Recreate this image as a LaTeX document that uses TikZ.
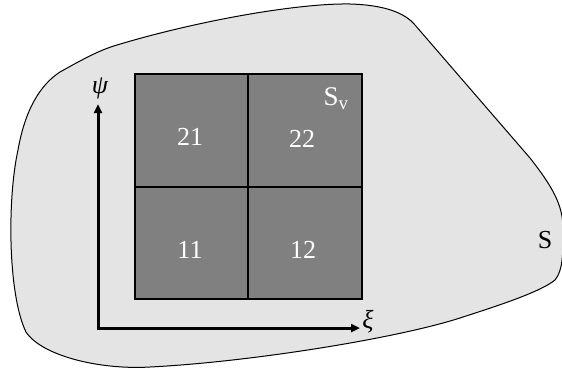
\documentclass[tikz,border=0pt]{standalone}
\usepackage{fontspec}
\setmainfont{Liberation Serif}
\usetikzlibrary{arrows.meta}
\begin{document}
\begin{tikzpicture}[x=1pt,y=-1pt,
  cell/.style={draw=black,line width=2pt,fill=cellgray,minimum width=113.5pt,minimum height=112.5pt,inner sep=0pt,anchor=north west},
  celltext/.style={text=white,font=\fontsize{26}{26}\selectfont,inner sep=0pt},
  axis/.style={line width=3pt,-{Triangle[length=9pt,width=8pt]}},
  lbl/.style={font=\fontsize{26}{26}\selectfont,inner sep=0pt}]
\definecolor{blobgray}{RGB}{228,228,228}
\definecolor{cellgray}{RGB}{128,128,128}
\useasboundingbox (0,0) rectangle (562,370);
% outer region S
\draw[fill=blobgray,line width=1pt]
  (60,72) .. controls (85,58) and (100,50) .. (117,45)
  .. controls (200,20) and (300,3) .. (350,4)
  .. controls (385,5) and (405,13) .. (415,25)
  -- (530,158)
  .. controls (552,186) and (563,205) .. (563,228)
  .. controls (563,255) and (563,270) .. (555,280)
  .. controls (540,292) and (500,305) .. (463,317)
  .. controls (400,338) and (250,362) .. (150,367)
  .. controls (100,370) and (42,356) .. (26,332)
  .. controls (8,295) and (7,200) .. (18,150)
  .. controls (25,110) and (40,85) .. (60,72) -- cycle;
% cells
\node[cell] (c21) at (133.5,73) {};
\node[cell] (c22) at (247,73) {};
\node[cell] (c11) at (133.5,185.5) {};
\node[cell] (c12) at (247,185.5) {};
\node[celltext] (t21) at (190,137) {21};
\node[celltext] (t22) at (302,139) {22};
\node[celltext] (t11) at (190,250) {11};
\node[celltext] (t12) at (303,250) {12};
\node[celltext,font=\fontsize{27}{27}\selectfont] (sv) at (336,99) {S\textsubscript{v}};
% axes
\coordinate (o) at (98,328);
\coordinate (yend) at (98,104);
\coordinate (xend) at (360,328);
\draw[axis] (o) -- (yend);
\draw[axis] ([xshift=-1.5pt]o) -- (xend);
\node[lbl] (psi) at (100,88) {\itshape ψ};
\node[lbl] (xi) at (368,322) {\itshape ξ};
\node[lbl] (s) at (545,240) {S};
\end{tikzpicture}
\end{document}
